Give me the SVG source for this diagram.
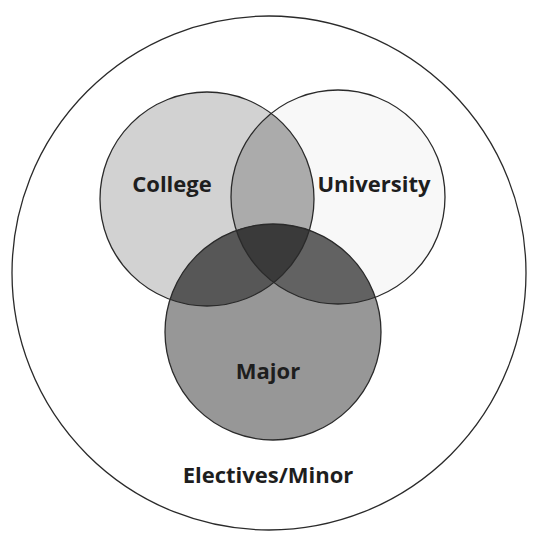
<svg xmlns="http://www.w3.org/2000/svg" width="542" height="534" viewBox="0 0 542 534">
  <style>
    .ring { fill: none; stroke: #2a2a2a; stroke-width: 1.3; }
    .lbl { font-family: "Open Sans", "Liberation Sans", sans-serif; font-weight: bold; font-size: 22px; fill: #1e1e1e; text-anchor: middle; }
  </style>
  <defs>
    <clipPath id="cpC"><circle cx="207" cy="199" r="107"/></clipPath>
    <clipPath id="cpU"><circle cx="338" cy="197" r="107"/></clipPath>
    <clipPath id="cpM"><circle cx="273" cy="332" r="108"/></clipPath>
  </defs>
  <rect width="542" height="534" fill="#ffffff"/>
  <g id="electives">
    <circle class="ring" cx="269" cy="273" r="257"/>
    <text class="lbl" x="268" y="483">Electives/Minor</text>
  </g>
  <g id="college">
    <circle cx="207" cy="199" r="107" fill="#d2d2d2"/>
  </g>
  <g id="university">
    <circle cx="338" cy="197" r="107" fill="#f8f8f8"/>
  </g>
  <g id="major">
    <circle cx="273" cy="332" r="108" fill="#979797"/>
  </g>
  <g id="overlaps">
    <g clip-path="url(#cpC)"><circle cx="338" cy="197" r="107" fill="#ababab"/></g>
    <g clip-path="url(#cpC)"><circle cx="273" cy="332" r="108" fill="#575757"/></g>
    <g clip-path="url(#cpU)"><circle cx="273" cy="332" r="108" fill="#626262"/></g>
    <g clip-path="url(#cpC)"><g clip-path="url(#cpU)"><circle cx="273" cy="332" r="108" fill="#3a3a3a"/></g></g>
  </g>
  <g id="outlines">
    <circle class="ring" cx="207" cy="199" r="107"/>
    <circle class="ring" cx="338" cy="197" r="107"/>
    <circle class="ring" cx="273" cy="332" r="108"/>
  </g>
  <g id="labels">
    <text class="lbl" x="172" y="192">College</text>
    <text class="lbl" x="374" y="192">University</text>
    <text class="lbl" x="268" y="379">Major</text>
  </g>
</svg>
